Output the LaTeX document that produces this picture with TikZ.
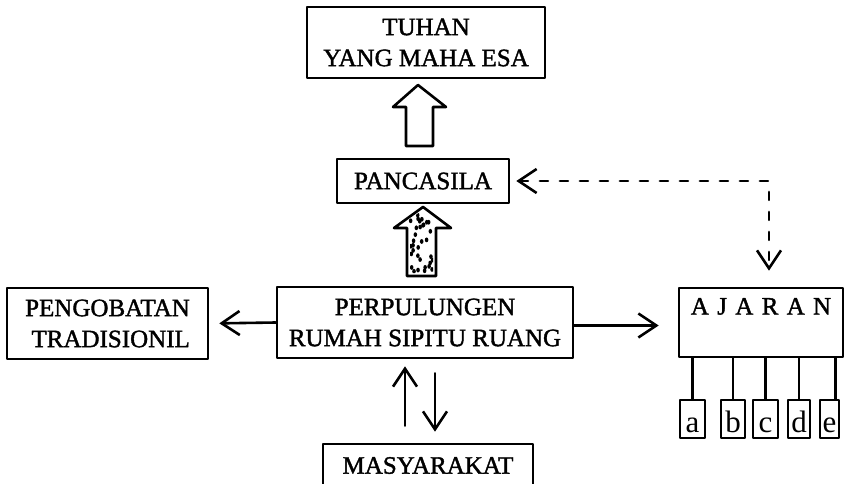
\documentclass[tikz,border=0pt]{standalone}
\usepackage{fontspec}
\setmainfont{Liberation Serif}[BoldFont={Liberation Serif}, BoldFeatures={FakeBold=1.5}]
\usetikzlibrary{arrows.meta}
\begin{document}
\begin{tikzpicture}[x=1pt, y=-1pt, line width=2.6pt, line join=round, line cap=round,
		font=\fontsize{25}{31}\selectfont\bfseries,
		>={Straight Barb[length=18pt,width=24pt]},
		box/.style={draw, inner sep=0pt, align=center},
		sub/.style={draw, inner sep=0pt, minimum height=38, text height=27pt, text depth=1pt, font=\fontsize{31}{32}\selectfont},
		dasharrow/.style={dash pattern=on 8pt off 12pt}]
	\clip (0,0) rectangle (845,484);
	% kotak utama
	\node[box, minimum width=238, minimum height=71] (tuhan) at (426,42.5) {TUHAN\\YANG MAHA ESA};
	\node[box, minimum width=172, minimum height=44] (pancasila) at (423,181) {PANCASILA};
	\node[box, minimum width=296, minimum height=71] (perpul) at (425,322.5) {PERPULUNGEN\\RUMAH SIPITU RUANG};
	\node[box, minimum width=201, minimum height=71, align=right] (pengobatan) at (107.5,323.5) {PENGOBATAN\\TRADISIONIL};
	\node[box, minimum width=164, minimum height=69,
		label={[anchor=north, inner sep=3pt, yshift=-7pt]north:A\,\,J\,\,A\,\,R\,\,A\,\,N}] (ajaran) at (761,322.5) {};
	\node[box, minimum width=210, minimum height=43] (masy) at (428,465.5) {MASYARAKAT};
	\foreach \n/\x/\w in {a/692.5/25,b/733/24,c/765.5/25,d/799/22,e/829.5/19}
		\node[sub, minimum width=\w] (\n) at (\x,419) {\n};
	% panah besar
	\draw (418,85) -- (393,107) -- (406,107) -- (406,146) -- (433,146) -- (433,107) -- (446,107) -- cycle;
	\draw (423,207) -- (394,228) -- (407,228) -- (407,276) -- (436,276) -- (436,228) -- (451,228) -- cycle;
	\begin{scope}
		\clip (423,210) -- (398,227) -- (410,227) -- (410,273) -- (433,273) -- (433,227) -- (447,227) -- cycle;
		\pgfmathsetseed{7}
		\foreach \i in {1,...,34}
			\fill ({410+23*rnd},{212+61*rnd}) ellipse [x radius=1.8pt, y radius=2.4pt];
	\end{scope}
	% penghubung
	\draw[->, shorten >=10pt] (perpul.west) -- (pengobatan.east);
	\draw[->, shorten >=19pt] ([yshift=-3pt]perpul.east) -- ([yshift=-3pt]perpul.east -| ajaran.west);
	\coordinate (dsudut) at (769,180);
	\draw[dasharrow, <->, shorten <=6pt, shorten >=16pt] (pancasila.east) -| (ajaran.north -| dsudut);
	\draw[->, shorten <=17pt, shorten >=7pt] ([xshift=-20pt]perpul.south |- masy.north) -- ([xshift=-20pt]perpul.south);
	\draw[->, shorten <=14pt, shorten >=11pt] ([xshift=10pt]perpul.south) -- ([xshift=10pt]perpul.south |- masy.north);
	\foreach \n in {a,b,c,d}
		\draw (\n.north) -- (\n.north |- ajaran.south);
	\draw ([xshift=6pt]e.north) -- ([xshift=6pt]e.north |- ajaran.south);
\end{tikzpicture}
\end{document}
